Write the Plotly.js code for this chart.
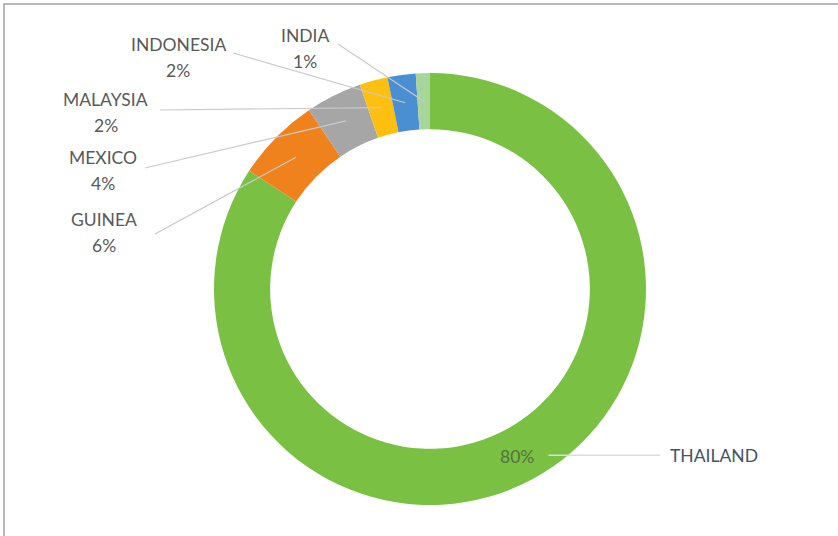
<!DOCTYPE html>
<html>
<head>
<meta charset="utf-8">
<script src="https://cdn.plot.ly/plotly-3.0.1.min.js"></script>
<style>
  html, body { margin: 0; padding: 0; background: #fff; }
  #chart { width: 838px; height: 536px; }
</style>
</head>
<body>
<div id="chart"></div>
<script>
// ---- data ----
const categories = ['THAILAND', 'GUINEA', 'MEXICO', 'MALAYSIA', 'INDONESIA', 'INDIA'];
const shares = [80, 6, 4, 2, 2, 1];
const shareLabels = ['80%', '6%', '4%', '2%', '2%', '1%'];
const sliceColors = ['#7AC143', '#F0821E', '#A6A6A6', '#FDC00F', '#4B8FD3', '#A8D59A'];

// ---- layout constants (pixels) ----
const W = 838, H = 536;
const CX = 430, CY = 289, R = 216, HOLE = 0.74;
const LEADER_R = 0.87;           // leader lines end at this fraction of R
const FONT = 'Lato, "Open Sans", sans-serif';
const FSIZE = 17.5;
const TEXT_COLOR = '#595959';

// label placement (layout only): name centre, line start
const labelPos = {
  'INDIA':     { nx: 305, ny: 35,  lx: 338, ly: 44 },
  'INDONESIA': { nx: 178, ny: 44,  lx: 233, ly: 53 },
  'MALAYSIA':  { nx: 106, ny: 100, lx: 160, ly: 110 },
  'MEXICO':    { nx: 103, ny: 157, lx: 145, ly: 168 },
  'GUINEA':    { nx: 104, ny: 220, lx: 155, ly: 234 }
};
const PCT_DY = 26;

const px = x => x / W;
const py = y => 1 - y / H;

// mid angles from data (clockwise from 12 o'clock)
const total = shares.reduce((a, b) => a + b, 0);
let cum = 0;
const midAngles = shares.map(v => {
  const mid = (cum + v / 2) / total * 2 * Math.PI;
  cum += v;
  return mid;
});
const ringPoint = (ang, rr) => [CX + rr * Math.sin(ang), CY - rr * Math.cos(ang)];

const annotations = [];
const shapes = [];

// outer frame (only left & top visible in reference)
shapes.push({
  type: 'rect', xref: 'paper', yref: 'paper',
  x0: px(4), x1: px(W + 20), y0: py(4), y1: py(H + 20),
  line: { color: '#a3a3a3', width: 1.5 }, fillcolor: 'rgba(0,0,0,0)'
});

categories.forEach((cat, i) => {
  const [ex, ey] = ringPoint(midAngles[i], R * LEADER_R);
  if (labelPos[cat]) {
    const p = labelPos[cat];
    shapes.push({
      type: 'line', xref: 'paper', yref: 'paper',
      x0: px(p.lx), y0: py(p.ly), x1: px(ex), y1: py(ey),
      line: { color: '#c9c9c9', width: 1.2 }
    });
    annotations.push({
      xref: 'paper', yref: 'paper', x: px(p.nx), y: py(p.ny),
      xanchor: 'center', yanchor: 'middle', showarrow: false,
      text: cat, font: { family: FONT, size: FSIZE, color: TEXT_COLOR }
    });
    annotations.push({
      xref: 'paper', yref: 'paper', x: px(p.nx), y: py(p.ny + PCT_DY),
      xanchor: 'center', yanchor: 'middle', showarrow: false,
      text: shareLabels[i], font: { family: FONT, size: FSIZE, color: TEXT_COLOR }
    });
  } else {
    // big slice: percentage in the ring, leader to name on the right
    annotations.push({
      xref: 'paper', yref: 'paper', x: px(ex - 2), y: py(ey + 2),
      xanchor: 'center', yanchor: 'middle', showarrow: false,
      text: shareLabels[i], font: { family: FONT, size: FSIZE, color: '#55703f' }
    });
    shapes.push({
      type: 'line', xref: 'paper', yref: 'paper',
      x0: px(ex + 29), y0: py(ey + 1), x1: px(660), y1: py(ey + 1),
      line: { color: '#dcdcdc', width: 1.5 }
    });
    annotations.push({
      xref: 'paper', yref: 'paper', x: px(668), y: py(ey + 1),
      xanchor: 'left', yanchor: 'middle', showarrow: false,
      text: cat, font: { family: FONT, size: FSIZE, color: '#44546A' }
    });
  }
});

const trace = {
  type: 'pie',
  labels: categories,
  values: shares,
  marker: { colors: sliceColors, line: { width: 0 } },
  hole: HOLE,
  sort: false,
  direction: 'clockwise',
  rotation: 0,
  textinfo: 'none',
  hoverinfo: 'skip',
  showlegend: false,
  domain: {
    x: [px(CX - R), px(CX + R)],
    y: [py(CY + R), py(CY - R)]
  }
};

const layout = {
  width: W, height: H,
  margin: { l: 0, r: 0, t: 0, b: 0 },
  paper_bgcolor: '#ffffff',
  showlegend: false,
  shapes: shapes,
  annotations: annotations
};

Plotly.newPlot('chart', [trace], layout, { displayModeBar: false, staticPlot: true });
</script>
</body>
</html>
